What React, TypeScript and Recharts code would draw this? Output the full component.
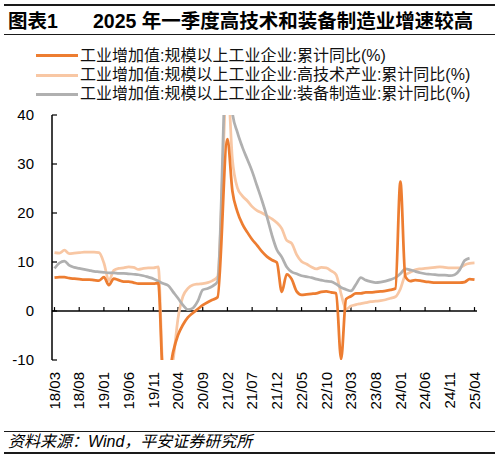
import { Line, LineChart, ReferenceLine, XAxis, YAxis } from "recharts"

const FONT = '"Liberation Sans", "Noto Sans CJK SC", sans-serif'

// monthly, 2018-03 .. 2025-04
const MONTHS = [
  "18/03", "18/04", "18/05", "18/06", "18/07", "18/08", "18/09", "18/10", "18/11", "18/12",
  "19/01", "19/02", "19/03", "19/04", "19/05", "19/06", "19/07", "19/08", "19/09", "19/10", "19/11", "19/12",
  "20/01", "20/02", "20/03", "20/04", "20/05", "20/06", "20/07", "20/08", "20/09", "20/10", "20/11", "20/12",
  "21/01", "21/02", "21/03", "21/04", "21/05", "21/06", "21/07", "21/08", "21/09", "21/10", "21/11", "21/12",
  "22/01", "22/02", "22/03", "22/04", "22/05", "22/06", "22/07", "22/08", "22/09", "22/10", "22/11", "22/12",
  "23/01", "23/02", "23/03", "23/04", "23/05", "23/06", "23/07", "23/08", "23/09", "23/10", "23/11", "23/12",
  "24/01", "24/02", "24/03", "24/04", "24/05", "24/06", "24/07", "24/08", "24/09", "24/10", "24/11", "24/12",
  "25/01", "25/02", "25/03", "25/04",
]

const TOTAL = [
  6.8, 6.9, 6.9, 6.7, 6.6, 6.5, 6.4, 6.4, 6.3, 6.2,
  6.9, 5.3, 6.6, 6.3, 6.0, 6.0, 5.8, 5.6, 5.6, 5.6, 5.6, 5.7,
  -13.5, -13.5, -8.4, -4.9, -2.8, -1.3, -0.4, 0.4, 1.2, 1.8, 2.3, 2.8,
  null, 35.1, 24.5, 20.3, 17.8, 16.1, 14.6, 13.4, 12.1, 11.1, 10.4, 9.9,
  3.9, 7.5, 6.5, 4.0, 3.3, 3.4, 3.5, 3.6, 3.9, 4.0, 3.8, 3.6,
  -9.8, 2.4, 3.0, 3.6, 3.6, 3.8, 3.8, 3.9, 4.0, 4.1, 4.3, 4.6,
  26.4, 7.0, 6.1, 6.3, 6.2, 6.0, 5.9, 5.8, 5.8, 5.8, 5.8, 5.8,
  5.8, 5.9, 6.5, 6.4,
]

const HI_TECH = [
  11.9, 11.8, 12.4, 11.7, 11.8, 11.9, 12.0, 12.0, 12.0, 11.9,
  9.8, 6.2, 8.3, 8.7, 8.8, 9.0, 8.9, 8.5, 8.7, 8.8, 8.8, 9.0,
  -13.0, -15.0, -10.1, -1.5, 3.0, 4.6, 5.3, 5.5, 5.6, 5.8, 6.2, 7.0,
  null, 47.0, 31.0, 25.2, 23.5, 22.5, 21.3, 20.5, 20.0, 19.4, 18.8, 18.0,
  16.8, 14.4, 13.8, 11.5, 10.1, 9.6, 9.0, 8.6, 8.9, 8.8, 8.2, 7.4,
  3.5, 0.4, 1.0, 1.3, 1.5, 1.7, 1.9, 2.0, 2.1, 2.3, 2.6, 2.9,
  4.5, 7.3, 7.9, 8.4, 8.6, 8.7, 8.8, 8.9, 9.0, 8.9, 8.8, 8.8,
  8.8, 9.4, 9.7, 9.8,
]

const EQUIP = [
  8.7, 9.8, 10.2, 9.3, 8.9, 8.7, 8.5, 8.3, 8.1, 8.0,
  7.9, 7.8, 7.8, 7.7, 7.7, 7.6, 7.5, 7.4, 7.2, 6.9, 6.6, 6.1,
  5.6, 5.2, 3.9, 2.6, 1.2, 0.3, 0.6, 2.0, 4.3, 4.6, 5.1, 6.0,
  null, 55.0, 40.5, 36.5, 33.5, 31.0, 28.5, 25.5, 22.5, 19.2, 15.5, 12.5,
  11.0, 9.0, 8.0, 7.6, 7.2, 7.0, 6.8, 6.5, 6.3, 6.1, 6.0, 5.5,
  4.8, 4.4, 4.1, 5.4, 6.8, 6.3, 6.0, 5.8, 5.9, 6.1, 6.4, 6.8,
  7.6, 8.6, 8.4, 8.1, 7.8, 7.6, 7.5, 7.4, 7.3, 7.3, 7.2, 7.4,
  8.4, 10.3, 10.8, null,
]

const TICK_LABELS = [
  "18/03", "18/08", "19/01", "19/06", "19/11", "20/04", "20/09", "21/02", "21/07",
  "21/12", "22/05", "22/10", "23/03", "23/08", "24/01", "24/06", "24/11", "25/04",
]

const Y_TICKS = [-10, 0, 10, 20, 30, 40]

// drawn in this order (last on top)
const SERIES = [
  { key: "hiTech", name: "工业增加值:规模以上工业企业:高技术产业:累计同比(%)", color: "#F8C7A4" },
  { key: "equip", name: "工业增加值:规模以上工业企业:装备制造业:累计同比(%)", color: "#B0B0B0" },
  { key: "total", name: "工业增加值:规模以上工业企业:累计同比(%)", color: "#ED7D31" },
]
const LEGEND_ORDER = ["total", "hiTech", "equip"]

const data = MONTHS.map((month, i) => ({
  month,
  total: TOTAL[i],
  hiTech: HI_TECH[i],
  equip: EQUIP[i],
}))

function MonthTick({ x, y, payload }: any) {
  const ty = y + 4
  return (
    <text
      x={x}
      y={ty}
      dy="0.35em"
      transform={`rotate(-90 ${x} ${ty})`}
      textAnchor="end"
      fontSize={15}
      fontFamily={FONT}
      fill="#000"
    >
      {payload.value}
    </text>
  )
}

const rule = (top: number, height: number) => (
  <div style={{ position: "absolute", left: 4, width: 491, top, height, background: "#1a1a1a" }} />
)

export default function App() {
  return (
    <div style={{ position: "absolute", left: 0, top: 0, width: 500, height: 458, background: "#fff", fontFamily: FONT, color: "#000" }}>
      <LineChart
        width={500}
        height={458}
        data={data}
        margin={{ top: 115, right: 23, bottom: 38, left: 0 }}
      >
        <XAxis
          dataKey="month"
          ticks={TICK_LABELS}
          interval={0}
          axisLine={false}
          tickLine={false}
          height={60}
          padding={{ left: 2.5, right: 2.5 }}
          tick={(props: any) => <MonthTick {...props} />}
        />
        <YAxis
          domain={[-10, 40]}
          ticks={Y_TICKS}
          interval={0}
          allowDataOverflow
          width={52}
          tickSize={-5}
          tickMargin={23}
          axisLine={{ stroke: "#000", strokeWidth: 1.5 }}
          tickLine={{ stroke: "#000", strokeWidth: 1.2 }}
          tick={{ fontSize: 15, fill: "#000", fontFamily: FONT }}
        />
        <ReferenceLine y={0} stroke="#000" strokeWidth={1.5} />
        {TICK_LABELS.map((t) => (
          <ReferenceLine
            key={t}
            segment={[{ x: t, y: 0 }, { x: t, y: 0.8 }]}
            stroke="#000"
            strokeWidth={1.2}
          />
        ))}
        {SERIES.map((s) => (
          <Line
            key={s.key}
            type="monotone"
            dataKey={s.key}
            name={s.name}
            stroke={s.color}
            strokeWidth={2.75}
            dot={false}
            activeDot={false}
            connectNulls
            isAnimationActive={false}
          />
        ))}
      </LineChart>

      {rule(4, 2)}
      <div style={{ position: "absolute", left: 8, top: 11, lineHeight: "20px", fontSize: 19.5, fontWeight: 700 }}>图表1</div>
      <div style={{ position: "absolute", left: 93, top: 11, lineHeight: "20px", fontSize: 19.5, fontWeight: 700 }}>
        2025 年一季度高技术和装备制造业增速较高
      </div>
      {rule(33.5, 1)}

      {LEGEND_ORDER.map((k, i) => {
        const s = SERIES.find((x) => x.key === k)!
        const cy = 55.7 + i * 19.3
        return (
          <div key={k}>
            <div style={{ position: "absolute", left: 36, width: 42, top: cy - 1.5, height: 3, background: s.color }} />
            <div style={{ position: "absolute", left: 80, top: cy - 10, lineHeight: "20px", fontSize: 16, whiteSpace: "nowrap", color: "#111" }}>
              {s.name}
            </div>
          </div>
        )
      })}

      {rule(431, 1.3)}
      <div style={{ position: "absolute", left: 8, top: 431.5, lineHeight: "20px", fontSize: 16, fontStyle: "italic", whiteSpace: "nowrap" }}>
        资料来源：Wind，平安证券研究所
      </div>
      {rule(451.5, 2)}
    </div>
  )
}
